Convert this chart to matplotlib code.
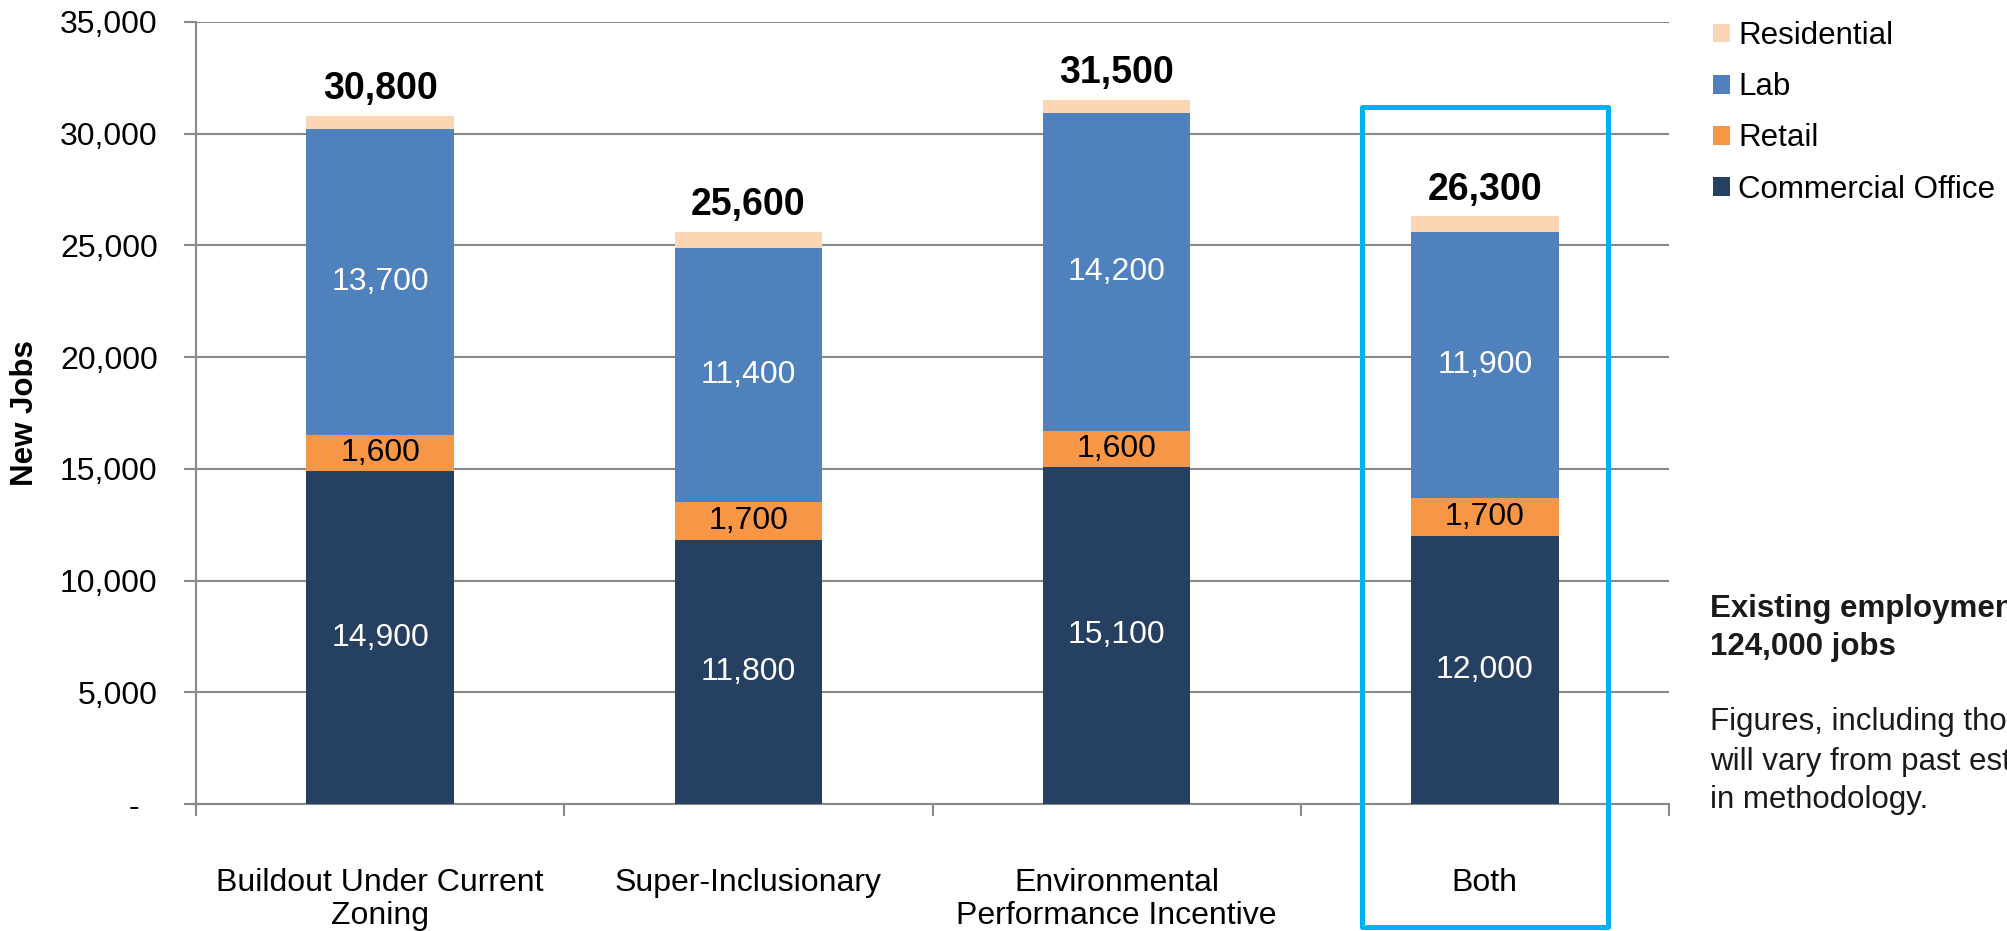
import matplotlib
matplotlib.use("Agg")
import matplotlib.pyplot as plt
from matplotlib.patches import Rectangle
from matplotlib.ticker import FixedLocator, FuncFormatter
import numpy as np

plt.rcParams['font.family'] = ['Liberation Sans', 'DejaVu Sans']

# Scenario data: new jobs by land use
scenarios = ["Buildout Under Current\nZoning", "Super-Inclusionary",
             "Environmental\nPerformance Incentive", "Both"]
commercial_office = [14900, 11800, 15100, 12000]
retail = [1600, 1700, 1600, 1700]
lab = [13700, 11400, 14200, 11900]
residential = [600, 700, 600, 700]
totals = [30800, 25600, 31500, 26300]

series_names = ["Commercial Office", "Retail", "Lab", "Residential"]
series_colors = ["#264061", "#F79646", "#4F81BD", "#FCD5B5"]
label_colors = ["white", "black", "white", None]

W, H = 2008, 931
fig = plt.figure(figsize=(W / 100, H / 100), dpi=100)
ax = fig.add_axes([196 / W, 1 - 804 / H, (1669 - 196) / W, (804 - 21.8) / H])

x = np.arange(len(scenarios))
bar_w = 0.4
bottom = np.zeros(len(scenarios))
handles = []
for name, vals, col, lc in zip(series_names,
                               [commercial_office, retail, lab, residential],
                               series_colors, label_colors):
    vals = np.array(vals, dtype=float)
    bars = ax.bar(x, vals, bar_w, bottom=bottom, color=col, zorder=3,
                  linewidth=0, label=name)
    handles.append(bars)
    if lc is not None:
        for xi, b, v in zip(x, bottom, vals):
            ax.text(xi, b + v / 2, f"{int(v):,}", ha="center", va="center",
                    color=lc, fontsize=23, zorder=4)
    bottom += vals

for xi, t in zip(x, totals):
    ax.annotate(f"{t:,}", (xi, t), xytext=(0, 12), textcoords="offset points",
                ha="center", va="baseline", fontsize=27, fontweight="bold",
                color="black")

# Axes styling
grid_col = "#898989"
ax.set_xlim(-0.5, 3.5)
ax.set_ylim(0, 35000)
ax.yaxis.set_major_locator(FixedLocator(np.arange(0, 35001, 5000)))
ax.yaxis.set_major_formatter(FuncFormatter(lambda v, p: "-  " if v == 0 else f"{int(v):,}"))
ax.grid(axis="y", color=grid_col, linewidth=1.5, zorder=0)
ax.set_axisbelow(True)
for s in ["top", "right"]:
    ax.spines[s].set_visible(False)
for s in ["left", "bottom"]:
    ax.spines[s].set_color(grid_col)
    ax.spines[s].set_linewidth(1.5)
ax.tick_params(axis="y", length=8.6, width=1.5, color=grid_col, pad=19,
               labelsize=23, labelcolor="black")

ax.set_xticks(x)
ax.set_xticklabels(scenarios, fontsize=23, linespacing=1.12)
ax.set_xticks(np.arange(-0.5, 3.6, 1.0), minor=True)
ax.tick_params(axis="x", which="major", length=0, pad=46)
ax.tick_params(axis="x", which="minor", length=8.6, width=1.5, color=grid_col)

fig.text(25 / W, 1 - 413 / H, "New Jobs", rotation=90, ha="center",
         va="center", fontsize=22.5, fontweight="bold")

# Highlight box around the combined scenario
ax.add_patch(Rectangle((3 - 0.333, -5500), 0.666, 31200 + 5500, fill=False,
                       edgecolor="#00B0F0", linewidth=3.6, clip_on=False,
                       zorder=5, joinstyle="round"))

# Legend (stack order reversed)
leg = fig.legend([handles[i] for i in [3, 2, 1, 0]],
                 [series_names[i] for i in [3, 2, 1, 0]],
                 loc="upper left", bbox_to_anchor=(1713 / W, 1 - 21 / H),
                 frameon=False, fontsize=22.5, handlelength=0.55,
                 handleheight=0.55, handletextpad=0.25, labelspacing=0.68,
                 borderpad=0, borderaxespad=0)

# Side notes
fig.text(1710 / W, 1 - 617 / H, "Existing employment:", fontsize=22.5,
         fontweight="bold", color="#1a1a1a", va="baseline")
fig.text(1710 / W, 1 - 655 / H, "124,000 jobs", fontsize=22.5,
         fontweight="bold", color="#1a1a1a", va="baseline")
for yb, line in zip([730, 770, 808],
                    ["Figures, including those for existing employment,",
                     "will vary from past estimates due to changes",
                     "in methodology."]):
    fig.text(1710 / W, 1 - yb / H, line, fontsize=22.5, color="#1a1a1a",
             va="baseline")

fig.savefig("out.png", dpi=100)
